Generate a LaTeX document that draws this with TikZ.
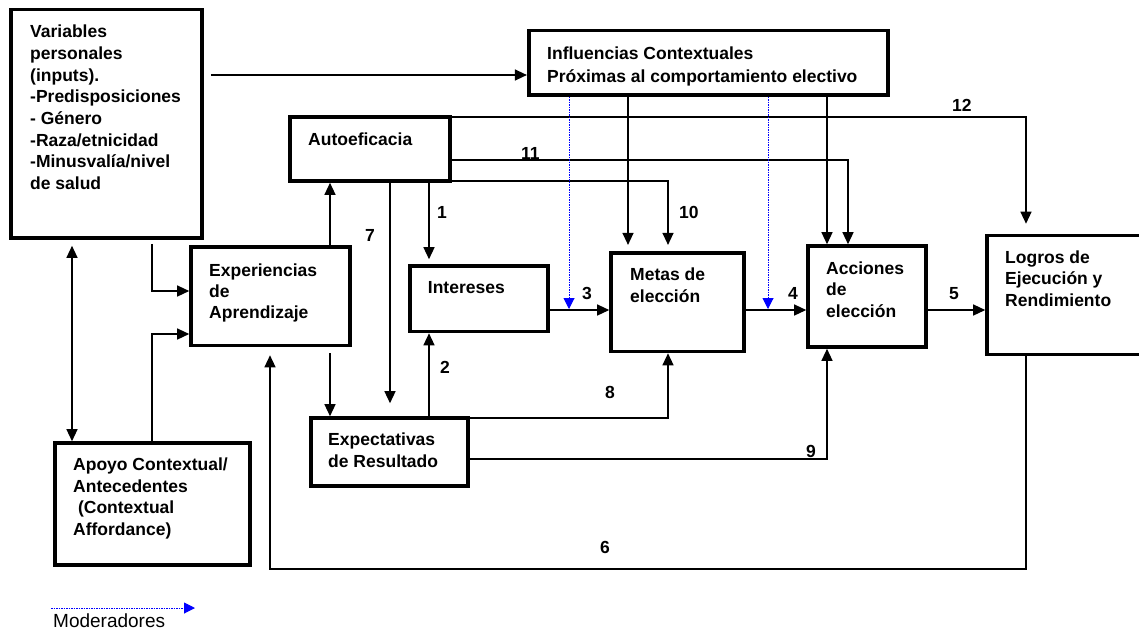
\documentclass[tikz,border=0pt]{standalone}
\usepackage{fontspec}
\setmainfont{Liberation Sans}
\usetikzlibrary{arrows.meta,fit}
\begin{document}
\begin{tikzpicture}[x=1pt,y=-1pt,
  box/.style={draw, line width=3.6pt, inner sep=0pt},
  txt/.style={anchor=north west, inner sep=0pt, align=left, font=\bfseries\fontsize{17.5}{21.7}\selectfont},
  num/.style={anchor=base west, inner sep=0pt, font=\bfseries\fontsize{17.5}{21}\selectfont},
  arr/.style={line width=1.3pt, -{Triangle[length=12pt,width=11pt]}},
  dbl/.style={line width=1.3pt, {Triangle[length=12pt,width=11pt]}-{Triangle[length=12pt,width=11pt]}},
  mod/.style={draw=blue, line width=1pt, dash pattern=on 1.5pt off 1pt, -{Triangle[length=11pt,width=11pt,fill=blue]}}]
\useasboundingbox[fill=white] (0,0) rectangle (1139,633);
% boxes
\node[box, fit={(11,9.5) (202,238)}] (var) {};
\node[box, fit={(528.7,30.3) (888,94.7)}] (inf) {};
\node[box, fit={(290,117) (450,181)}] (aut) {};
\node[box, fit={(191,247) (350,345.5)}] (exp) {};
\node[box, fit={(410,266) (548,331.5)}] (int) {};
\node[box, fit={(611,252.7) (744,351.5)}] (met) {};
\node[box, fit={(808,246) (926,347)}] (acc) {};
\node[box, fit={(987,235.5) (1160,354.5)}] (log) {};
\node[box, fit={(311,418) (468,486)}] (expe) {};
\node[box, fit={(55,443) (250,565)}] (apo) {};
% texts
\node[txt] (tvar) at (30,24.8) {Variables\\personales\\(inputs).\\-Predisposiciones\\- Género\\-Raza/etnicidad\\-Minusvalía/nivel\\de salud};
\node[txt, font=\bfseries\fontsize{17.5}{22.7}\selectfont] (tinf) at (547,46.5) {Influencias Contextuales\\Próximas al comportamiento electivo};
\node[txt] (taut) at (308,133) {Autoeficacia};
\node[txt, font=\bfseries\fontsize{17.5}{21.2}\selectfont] (texp) at (209,263.2) {Experiencias\\de\\Aprendizaje};
\node[txt] (tint) at (427.7,281.5) {Intereses};
\node[txt] (tmet) at (630,267.5) {Metas de\\elección};
\node[txt, font=\bfseries\fontsize{17.5}{21.5}\selectfont] (tacc) at (826,261.5) {Acciones\\de\\elección};
\node[txt] (tlog) at (1005,250.2) {Logros de\\Ejecución y\\Rendimiento};
\node[txt] (texpe) at (328,432.5) {Expectativas\\de Resultado};
\node[txt] (tapo) at (73,457.5) {Apoyo Contextual/\\Antecedentes\\\ (Contextual\\Affordance)};
% coordinates
\coordinate (c6) at (270,569);
\coordinate (m1) at (569,309);
\coordinate (m2) at (768,309);
\coordinate (l1) at (51,608);
\coordinate (l2) at (195,608);
% connectors
\draw[arr, shorten <=7pt] (var.east |- 0,75) -- (inf.west |- 0,75);
\draw[dbl, shorten <=6pt] (var.south -| 72,0) -- (apo.north -| 72,0);
\draw[arr, shorten <=4pt] (var.south -| 152,0) |- (exp.west |- 0,291);
\draw[arr] (apo.north -| 152,0) |- (exp.west |- 0,334);
\draw[arr] (exp.north -| 330,0) -- (aut.south -| 330,0);
\draw[arr, shorten <=6pt] (exp.south -| 330,0) -- (expe.north -| 330,0);
\draw[arr, shorten >=13pt] (aut.south -| 390,0) -- (expe.north -| 390,0);
\draw[arr, shorten >=5pt] (aut.south -| 429,0) -- (int.north -| 429,0);
\draw[arr] (expe.north -| 429,0) -- (int.south -| 429,0);
\draw[arr, shorten >=10pt] (aut.east |- 0,117) -| (log.north -| 1026,0);
\draw[arr] (aut.east |- 0,160) -| (acc.north -| 848,0);
\draw[arr, shorten >=6pt] (aut.east |- 0,181) -| (met.north -| 668,0);
\draw[arr, shorten >=6pt] (inf.south -| 628,0) -- (met.north -| 628,0);
\draw[arr] (inf.south -| 827,0) -- (acc.north -| 827,0);
\draw[arr] (int.east |- 0,310) -- (met.west |- 0,310);
\draw[arr] (met.east |- 0,310) -- (acc.west |- 0,310);
\draw[arr] (acc.east |- 0,310) -- (log.west |- 0,310);
\draw[arr] (expe.east |- 0,418) -| (met.south -| 668,0);
\draw[arr] (expe.east |- 0,459) -| (acc.south -| 827,0);
\draw[arr, shorten >=8pt] (log.south -| 1026,0) |- (c6) -- (exp.south -| 270,0);
\draw[mod] (inf.south -| 569,0) -- (m1);
\draw[mod] (inf.south -| 768,0) -- (m2);
\draw[mod] (l1) -- (l2);
% labels
\node[num] (n1) at (437,218) {1};
\node[num] (n2) at (440,373) {2};
\node[num] (n3) at (582,299) {3};
\node[num] (n4) at (788,299) {4};
\node[num] (n5) at (949,299) {5};
\node[num] (n6) at (600,553) {6};
\node[num] (n7) at (365,241.5) {7};
\node[num] (n8) at (605,398) {8};
\node[num] (n9) at (806,457) {9};
\node[num] (n10) at (679,218) {10};
\node[num] (n11) at (521,159.5) {11};
\node[num] (n12) at (952,111.5) {12};
\node[anchor=base west, inner sep=0pt, font=\fontsize{19}{22}\selectfont] (leg) at (53,627) {Moderadores};
\end{tikzpicture}
\end{document}
